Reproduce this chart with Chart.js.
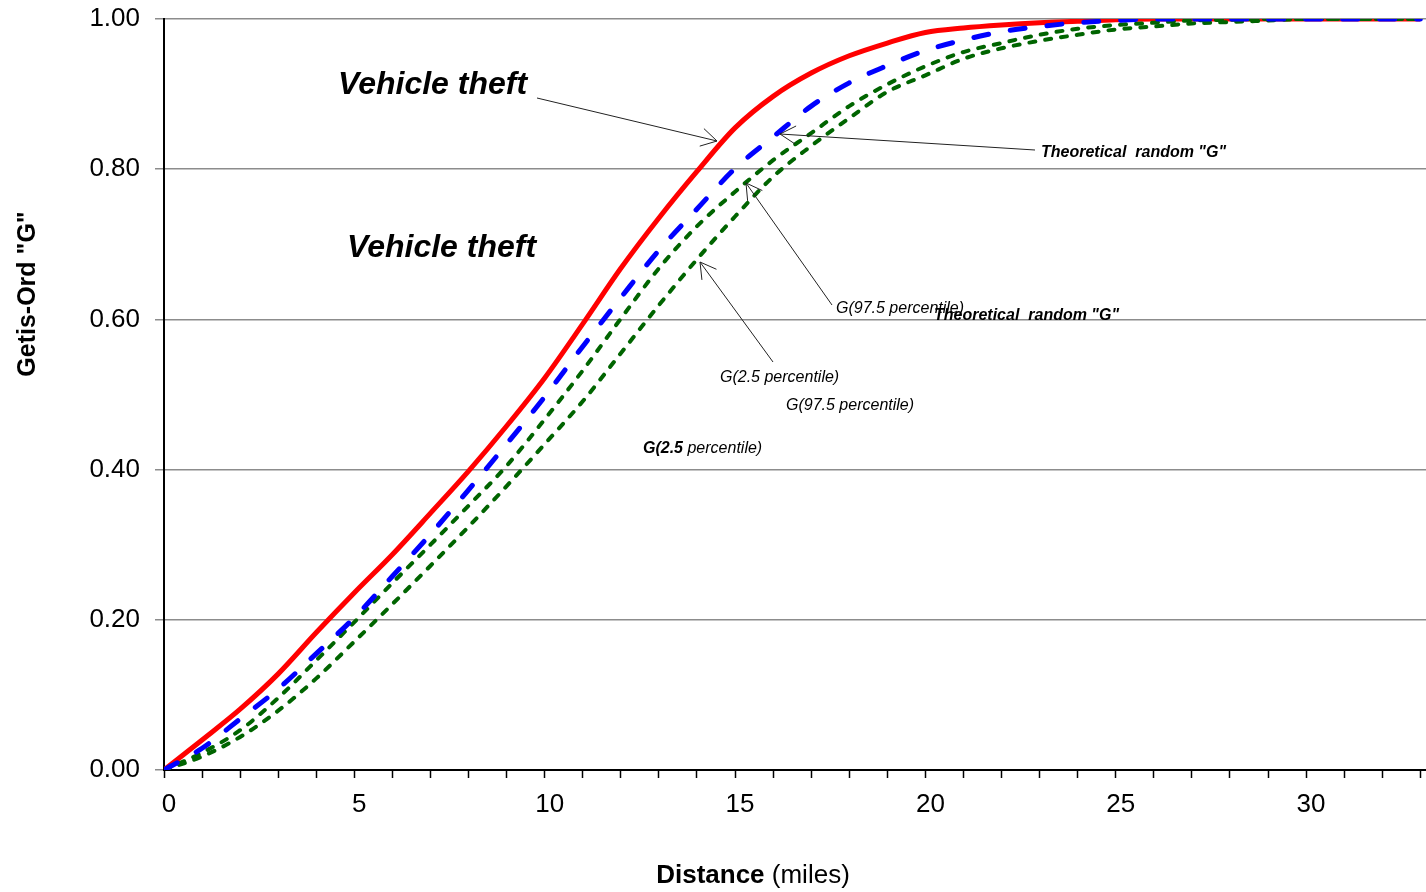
<!DOCTYPE html>
<html><head><meta charset="utf-8">
<script src="https://cdn.jsdelivr.net/npm/chart.js@4.4.0/dist/chart.umd.min.js"></script>
<style>html,body{margin:0;padding:0;background:#fff;overflow:hidden}#wrap{width:1426px;height:892px}</style>
</head><body><div id="wrap"><canvas id="c" width="1426" height="892"></canvas></div>
<script>
// Distance in miles
const distance = [0,1,2,3,4,5,6,7,8,9,10,11,12,13,14,15,16,17,18,19,20,21,22,23,24,25,26,27,28,29,30,31,32,33];
// Observed Getis-Ord G (Vehicle theft)
const observedG = [0,0.040,0.081,0.128,0.183,0.236,0.287,0.342,0.398,0.458,0.522,0.594,0.668,0.735,0.797,0.855,0.897,0.928,0.951,0.968,0.982,0.988,0.992,0.995,0.997,0.999,1,1,1,1,1,1,1,1];
// Theoretical random G
const theoreticalG = [0,0.029,0.068,0.108,0.155,0.203,0.258,0.314,0.373,0.434,0.497,0.564,0.629,0.692,0.747,0.801,0.843,0.884,0.915,0.938,0.958,0.972,0.983,0.990,0.995,0.998,1,1,1,1,1,1,1,1];
// G 97.5 percentile
const upper975G = [0,0.023,0.053,0.096,0.146,0.197,0.249,0.300,0.352,0.405,0.467,0.532,0.601,0.668,0.724,0.770,0.812,0.848,0.884,0.913,0.937,0.956,0.968,0.979,0.987,0.992,0.995,0.998,0.999,1,1,1,1,1];
// G 2.5 percentile
const lower25G = [0,0.018,0.044,0.079,0.122,0.171,0.221,0.272,0.324,0.378,0.434,0.491,0.555,0.619,0.680,0.737,0.790,0.831,0.868,0.903,0.925,0.947,0.961,0.971,0.979,0.986,0.990,0.994,0.996,0.998,1,1,1,1];
// Tick labels
const xTickLabels = [0,5,10,15,20,25,30];
const yTickLabels = ['0.00','0.20','0.40','0.60','0.80','1.00'];

const FONT = '"Liberation Sans", Arial, sans-serif';
const pts = arr => distance.map((d,i)=>({x:d,y:arr[i]}));

function arrow(ctx, x1, y1, x2, y2){
  ctx.beginPath(); ctx.moveTo(x1,y1); ctx.lineTo(x2,y2); ctx.stroke();
  const a = Math.atan2(y1-y2, x1-x2), L = 18, h = Math.PI/6;
  ctx.beginPath();
  ctx.moveTo(x2+L*Math.cos(a+h), y2+L*Math.sin(a+h));
  ctx.lineTo(x2,y2);
  ctx.lineTo(x2+L*Math.cos(a-h), y2+L*Math.sin(a-h));
  ctx.stroke();
}

const annot = {
  id:'annot',
  afterDraw(chart){
    const ctx = chart.ctx;
    ctx.save();
    ctx.fillStyle = '#000';
    // Y title
    ctx.save();
    ctx.translate(28, 294); ctx.rotate(-Math.PI/2);
    ctx.font = 'bold 25px ' + FONT; ctx.textAlign='center'; ctx.textBaseline='middle';
    ctx.fillText('Getis-Ord "G"', 0, 0);
    ctx.restore();
    // X title
    ctx.textBaseline='alphabetic'; ctx.textAlign='left';
    ctx.font = 'bold 26px ' + FONT; const w1 = ctx.measureText('Distance').width;
    ctx.font = '26px ' + FONT; const w2 = ctx.measureText(' (miles)').width;
    let x0 = 753 - (w1+w2)/2;
    ctx.font = 'bold 26px ' + FONT; ctx.fillText('Distance', x0, 883);
    ctx.font = '26px ' + FONT; ctx.fillText(' (miles)', x0+w1, 883);
    // Annotations
    ctx.font = 'italic bold 32px ' + FONT;
    ctx.fillText('Vehicle theft', 338, 94);
    ctx.fillText('Vehicle theft', 347, 257);
    ctx.font = 'italic bold 16px ' + FONT;
    ctx.fillText('Theoretical  random "G"', 1041, 157);
    ctx.font = 'italic 16px ' + FONT;
    ctx.fillText('G(97.5 percentile)', 836, 313);
    ctx.font = 'italic bold 16px ' + FONT;
    ctx.fillText('Theoretical  random "G"', 934, 320);
    ctx.font = 'italic 16px ' + FONT;
    ctx.fillText('G(2.5 percentile)', 720, 382);
    ctx.fillText('G(97.5 percentile)', 786, 410);
    ctx.font = 'italic bold 16px ' + FONT;
    const wb = ctx.measureText('G(2.5').width;
    ctx.fillText('G(2.5', 643, 453);
    ctx.font = 'italic 16px ' + FONT;
    ctx.fillText(' percentile)', 643+wb, 453);
    // arrows
    ctx.strokeStyle = '#222'; ctx.lineWidth = 1;
    arrow(ctx, 537, 98, 717, 141);
    arrow(ctx, 1035, 150, 780, 134);
    arrow(ctx, 832, 305, 746, 183);
    arrow(ctx, 773, 362, 700, 262);
    ctx.restore();
  }
};

new Chart(document.getElementById('c'), {
  type:'line',
  data:{
    datasets:[
      {label:'Theoretical random "G"', data:pts(theoreticalG), borderColor:'#0000ff', borderWidth:5, borderDash:[15,22], borderCapStyle:'round'},
      {label:'G(97.5 percentile)', data:pts(upper975G), borderColor:'#006400', borderWidth:4, borderDash:[6,10], borderCapStyle:'round'},
      {label:'G(2.5 percentile)', data:pts(lower25G), borderColor:'#006400', borderWidth:4, borderDash:[6,10], borderCapStyle:'round'},
      {label:'Vehicle theft', data:pts(observedG), borderColor:'#ff0000', borderWidth:5}
    ]
  },
  options:{
    responsive:false, animation:false, devicePixelRatio:1,
    layout:{padding:{top:19,right:0,bottom:0,left:0}},
    elements:{point:{radius:0}, line:{cubicInterpolationMode:'monotone', fill:false, borderJoinStyle:'round'}},
    plugins:{legend:{display:false}, tooltip:{enabled:false}},
    scales:{
      x:{type:'linear', min:0, max:33.15,
        afterFit:s=>{s.height=122; s.paddingLeft=0; s.paddingRight=0;},
        border:{color:'#000', width:2},
        grid:{drawOnChartArea:false, tickLength:8, tickColor:'#000', tickWidth:1.5},
        ticks:{stepSize:1, autoSkip:false, includeBounds:false, maxRotation:0, minRotation:0, labelOffset:5, padding:11, color:'#000', font:{family:FONT,size:26},
          callback:v=> xTickLabels.includes(v) ? String(v) : ''}
      },
      y:{type:'linear', min:0, max:1,
        afterFit:s=>{s.width=164; s.paddingTop=0; s.paddingBottom=0;},
        border:{color:'#000', width:2},
        grid:{color:'#8c8c8c', lineWidth:1.5, tickLength:9},
        ticks:{stepSize:0.2, padding:15, color:'#000', font:{family:FONT,size:26},
          callback:v=> yTickLabels[Math.round(v*5)] ?? ''}
      }
    }
  },
  plugins:[annot]
});
</script>
</body></html>
